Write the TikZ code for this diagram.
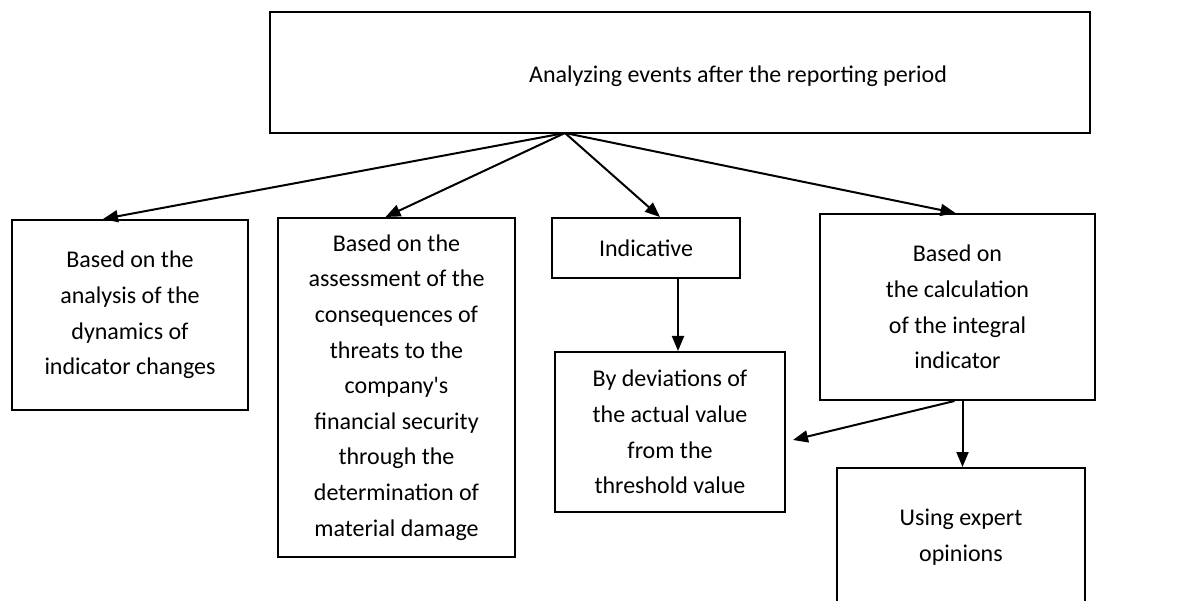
\documentclass[tikz,border=0pt]{standalone}
\usepackage{fontspec}
\setmainfont{Carlito}
\usepackage{tikz}
\usetikzlibrary{arrows.meta}

\begin{document}
\begin{tikzpicture}[
        x=1pt, y=-1pt,
        box/.style={
            rectangle,
            draw=black,
            line width=2pt,
            align=center,
            inner sep=0pt,
            font=\fontsize{24}{35.6}\selectfont
        },
        arrow/.style={
            -{Triangle[length=15pt,width=12pt]},
            line width=2pt
        }
    ]
        \clip (0,0) rectangle (1196,601);

        \node (top) [box, minimum width=820, minimum height=121] at (680,72.5) {};
        \node (toplbl) [font=\fontsize{24}{28}\selectfont] at (738,76) {Analyzing events after the reporting period};
        \coordinate (apex) at (565,133);

        \node (dyn) [box, minimum width=236, minimum height=190] at (130,315) {Based on the\\analysis of the\\dynamics of\\indicator changes};
        \node (dmg) [box, minimum width=237, minimum height=339] at (396.5,387.5) {Based on the\\assessment of the\\consequences of\\threats to the\\company\textquotesingle s\\financial security\\through the\\determination of\\material damage};
        \node (ind) [box, minimum width=188, minimum height=60] at (646,248) {Indicative};
        \node (dev) [box, minimum width=230, minimum height=160] at (670,432) {By deviations of\\the actual value\\from the\\threshold value};
        \node (integ) [box, minimum width=275, minimum height=186] at (957.5,307) {Based on\\the calculation\\of the integral\\indicator};
        \node (expert) [box, minimum width=248, minimum height=138] at (961,537) {Using expert\\opinions};

        \draw[arrow] (apex) -- ([xshift=-27pt]dyn.north);
        \draw[arrow] (apex) -- ([xshift=-11pt]dmg.north);
        \draw[arrow] (apex) -- ([xshift=14pt]ind.north);
        \draw[arrow] (apex) -- ([xshift=-2pt]integ.north);
        \draw[arrow] ([xshift=32pt]ind.south) -- ([xshift=32pt]ind.south |- dev.north);
        \draw[arrow] ([xshift=-3pt]integ.south) -- ([xshift=7pt,yshift=-8pt]dev.east);
        \draw[arrow] ([xshift=5pt]integ.south) -- ([xshift=5pt]integ.south |- expert.north);
\end{tikzpicture}
\end{document}
